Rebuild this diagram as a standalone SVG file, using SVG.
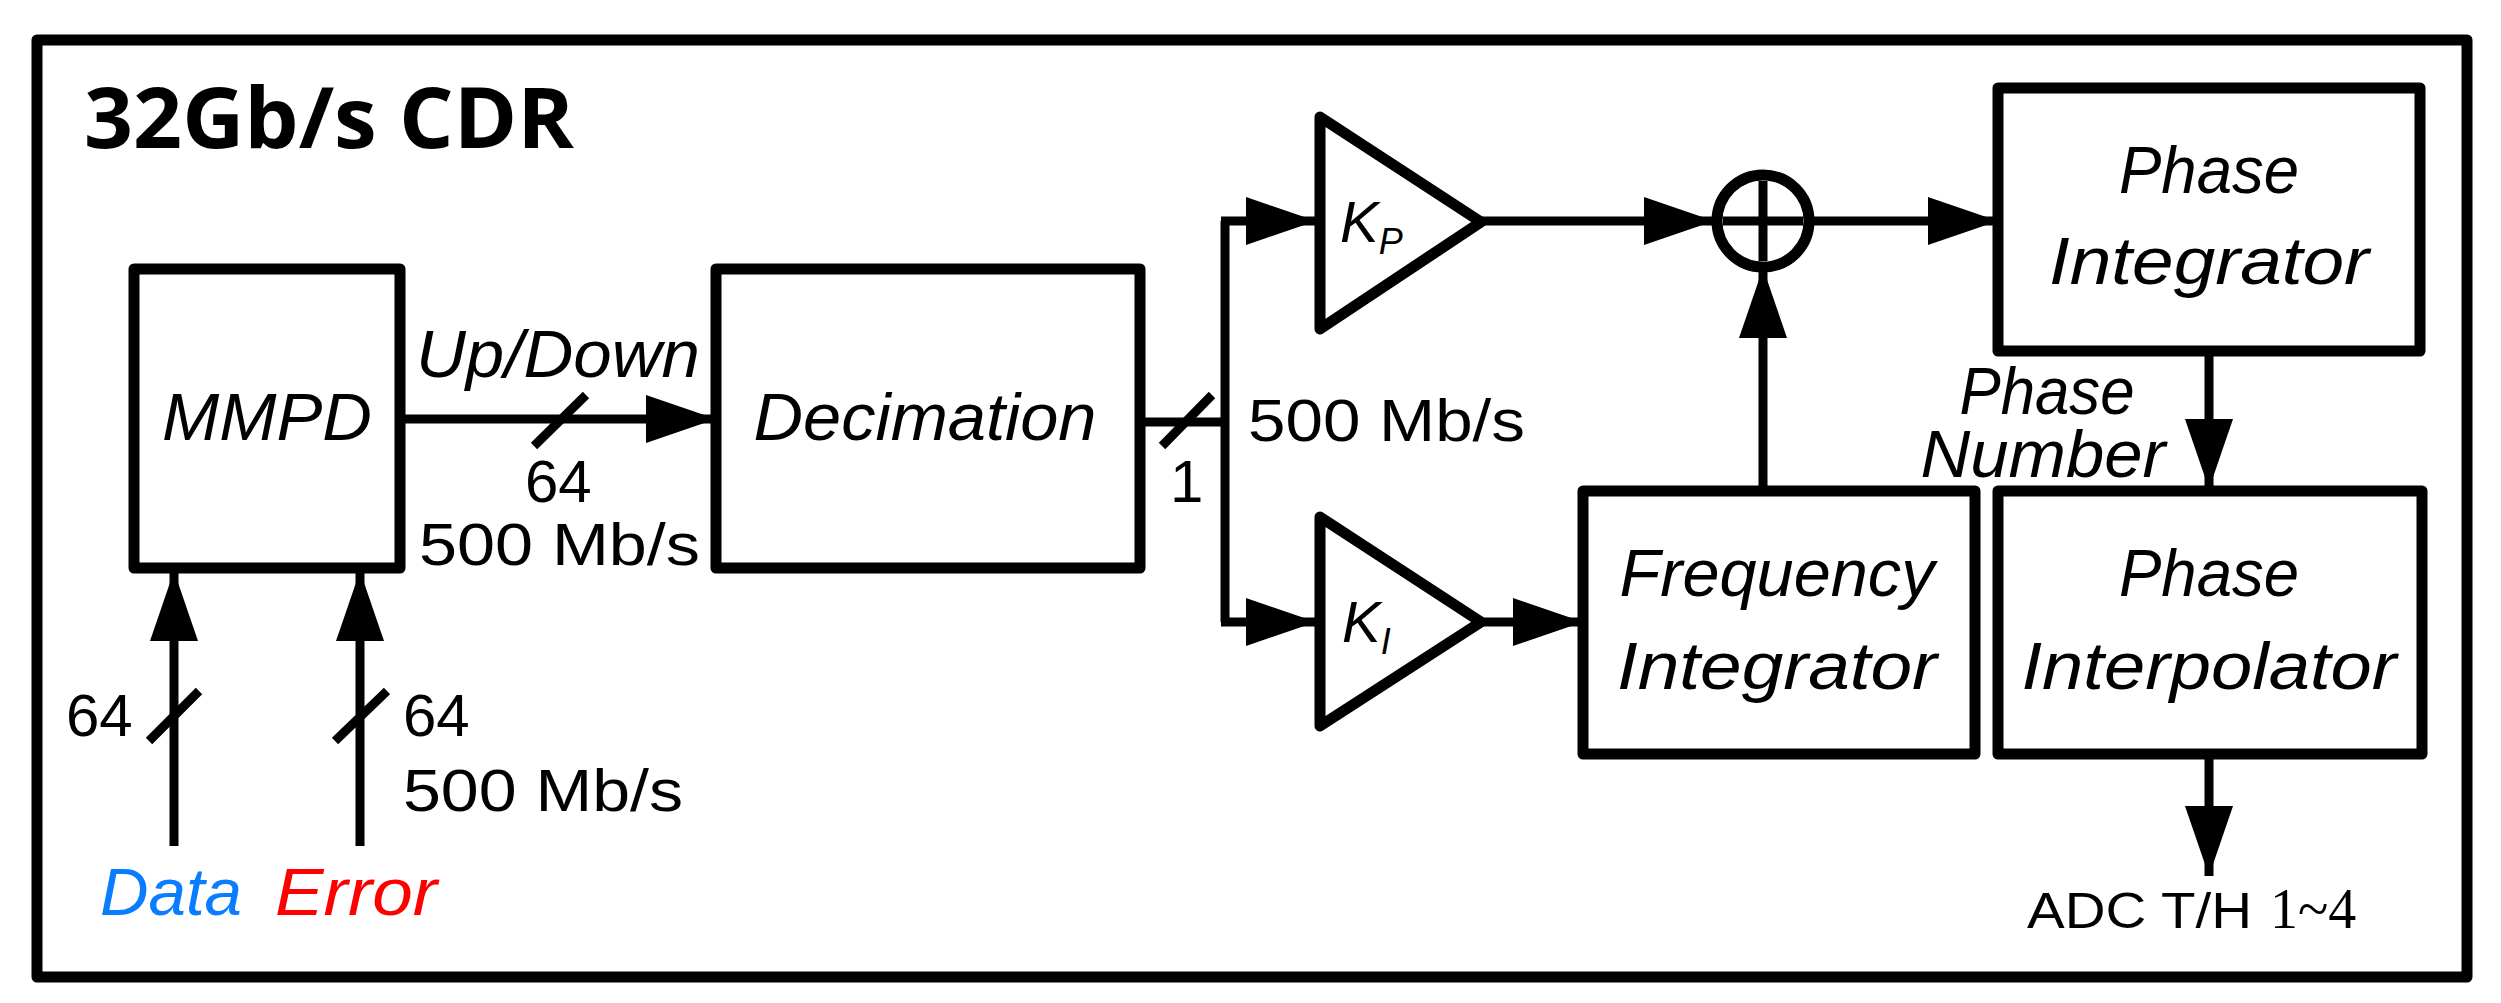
<svg xmlns="http://www.w3.org/2000/svg" width="2501" height="1003" viewBox="0 0 2501 1003">
<style>
.b{fill:none;stroke:#000;stroke-width:11;stroke-linejoin:round}
.l{fill:none;stroke:#000;stroke-width:9}
.t{font-family:"Liberation Sans",Arial,sans-serif;font-size:66px;font-style:italic;text-anchor:middle}
.n{font-family:"Liberation Sans",Arial,sans-serif;font-size:60px}
</style>
<defs>
<marker id="a" markerUnits="userSpaceOnUse" markerWidth="72" markerHeight="50" refX="70" refY="24" orient="auto"><path d="M0,0 L70,24 L0,48 Z" fill="#000"/></marker>
</defs>
<rect x="37" y="40" width="2430" height="937" class="b"/>
<text x="84" y="148" font-family="'Open Sans','Liberation Sans',sans-serif" font-weight="bold" font-size="84" textLength="490" lengthAdjust="spacingAndGlyphs">32Gb/s CDR</text>
<g id="mmpd"><rect x="134" y="269" width="266" height="299" class="b"/><text class="t" x="267" y="440" textLength="210" lengthAdjust="spacingAndGlyphs">MMPD</text></g>
<g id="decimation"><rect x="716" y="269" width="424" height="299" class="b"/><text class="t" x="925" y="440" textLength="343" lengthAdjust="spacingAndGlyphs">Decimation</text></g>
<g id="kp"><path d="M1320,117 L1481,222 L1320,329 Z" class="b"/><text x="1340" y="242" font-family="Liberation Sans,sans-serif" font-style="italic" font-size="58">K<tspan font-size="36" dy="12">P</tspan></text></g>
<g id="ki"><path d="M1320,517 L1481,622 L1320,726 Z" class="b"/><text x="1342" y="642" font-family="Liberation Sans,sans-serif" font-style="italic" font-size="58">K<tspan font-size="36" dy="12">I</tspan></text></g>
<g id="sum"><circle cx="1763" cy="221" r="46" class="b"/><path d="M1763,181 V261 M1723,221 H1803" class="l"/></g>
<g id="phaseint"><rect x="1998" y="88" width="422" height="263" class="b"/><text class="t" x="2209" y="193" textLength="180" lengthAdjust="spacingAndGlyphs">Phase</text><text class="t" x="2209" y="284" textLength="320" lengthAdjust="spacingAndGlyphs">Integrator</text></g>
<g id="freqint"><rect x="1583" y="491" width="392" height="263" class="b"/><text class="t" x="1777" y="596" textLength="315" lengthAdjust="spacingAndGlyphs">Frequency</text><text class="t" x="1777" y="689" textLength="320" lengthAdjust="spacingAndGlyphs">Integrator</text></g>
<g id="phaseinterp"><rect x="1998" y="491" width="424" height="263" class="b"/><text class="t" x="2209" y="596" textLength="180" lengthAdjust="spacingAndGlyphs">Phase</text><text class="t" x="2209" y="689" textLength="375" lengthAdjust="spacingAndGlyphs">Interpolator</text></g>
<g id="connectors">
<line x1="400" y1="419" x2="716" y2="419" class="l" marker-end="url(#a)"/>
<line x1="534" y1="446" x2="586" y2="395" class="l"/>
<line x1="174" y1="846" x2="174" y2="571" class="l" marker-end="url(#a)"/>
<line x1="149" y1="741" x2="199" y2="691" class="l"/>
<line x1="360" y1="846" x2="360" y2="571" class="l" marker-end="url(#a)"/>
<line x1="335" y1="741" x2="387" y2="691" class="l"/>
<polyline points="1140,422 1225,422" class="l"/>
<line x1="1162" y1="446" x2="1212" y2="395" class="l"/>
<polyline points="1225,622 1225,221" class="l"/>
<line x1="1221" y1="221" x2="1316" y2="221" class="l" marker-end="url(#a)"/>
<line x1="1221" y1="622" x2="1316" y2="622" class="l" marker-end="url(#a)"/>
<line x1="1481" y1="221" x2="1714" y2="221" class="l" marker-end="url(#a)"/>
<line x1="1812" y1="221" x2="1998" y2="221" class="l" marker-end="url(#a)"/>
<line x1="1481" y1="622" x2="1583" y2="622" class="l" marker-end="url(#a)"/>
<line x1="1763" y1="491" x2="1763" y2="268" class="l" marker-end="url(#a)"/>
<line x1="2209" y1="351" x2="2209" y2="489" class="l" marker-end="url(#a)"/>
<line x1="2209" y1="754" x2="2209" y2="876" class="l" marker-end="url(#a)"/>
</g>
<g id="labels">
<text class="t" x="558" y="377" textLength="284" lengthAdjust="spacingAndGlyphs">Up/Down</text>
<text class="n" x="525" y="502">64</text>
<text class="n" x="419" y="565" textLength="281" lengthAdjust="spacingAndGlyphs">500 Mb/s</text>
<text class="n" x="1170" y="502">1</text>
<text class="n" x="1248" y="441" textLength="277" lengthAdjust="spacingAndGlyphs">500 Mb/s</text>
<text class="n" x="66" y="736">64</text>
<text class="n" x="403" y="736">64</text>
<text class="n" x="403" y="811" textLength="280" lengthAdjust="spacingAndGlyphs">500 Mb/s</text>
<text class="t" x="100" y="915" fill="#0a7cff" style="text-anchor:start" textLength="142" lengthAdjust="spacingAndGlyphs">Data</text>
<text class="t" x="275" y="915" fill="#ff0000" style="text-anchor:start" textLength="162" lengthAdjust="spacingAndGlyphs">Error</text>
<text class="t" x="2047" y="414" textLength="175" lengthAdjust="spacingAndGlyphs">Phase</text>
<text class="t" x="2043" y="477" textLength="245" lengthAdjust="spacingAndGlyphs">Number</text>
<text x="2027" y="928" font-family="Liberation Sans,sans-serif" font-size="50" textLength="225" lengthAdjust="spacingAndGlyphs">ADC T/H</text>
<text x="2270" y="928" font-family="Liberation Serif,serif" font-size="56">1~4</text>
</g>
</svg>
